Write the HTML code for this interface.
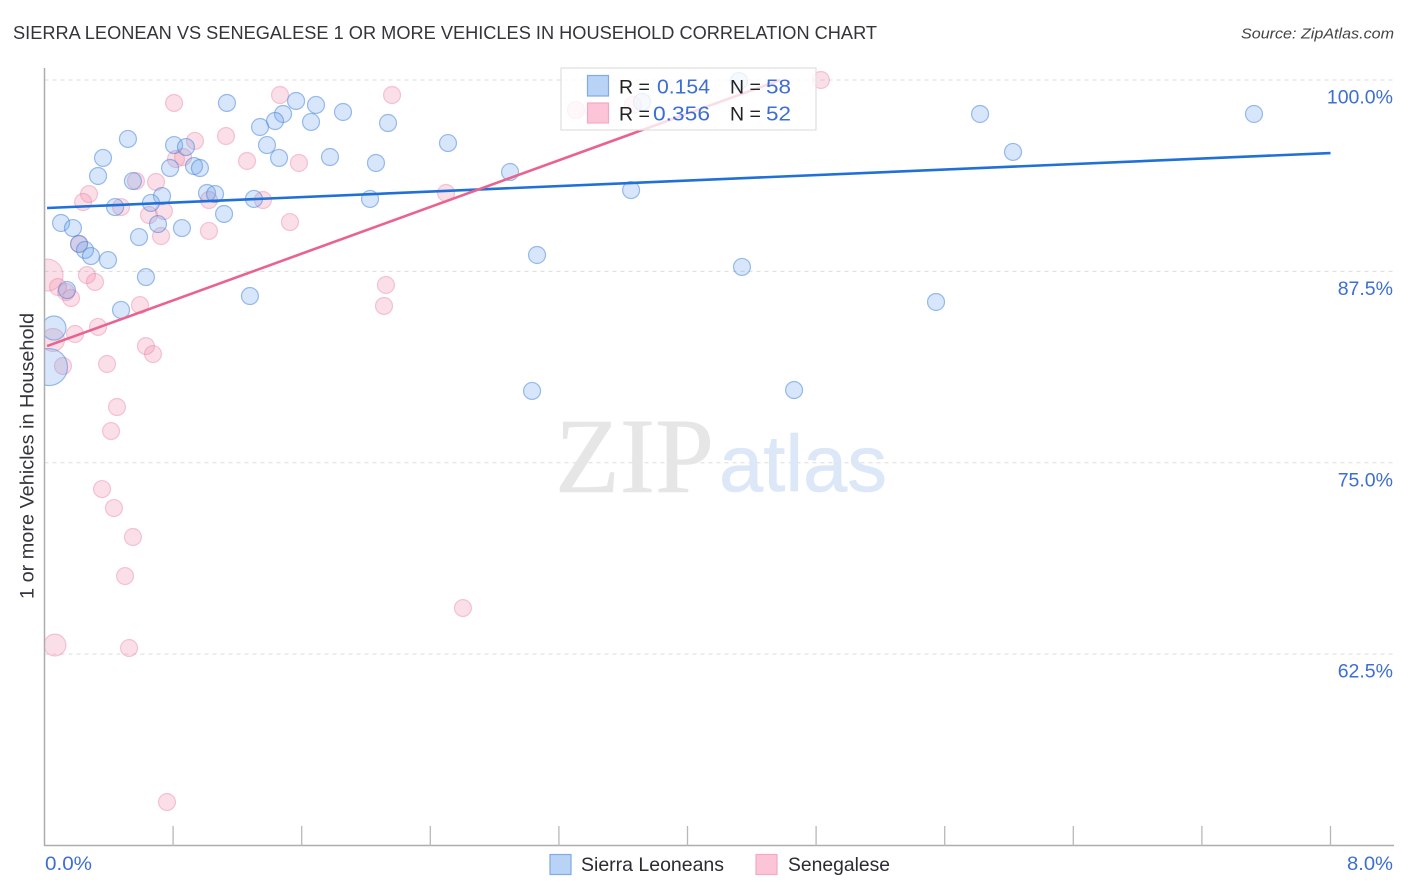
<!DOCTYPE html>
<html lang="en">
<head>
<meta charset="utf-8">
<title>Sierra Leonean vs Senegalese 1 or More Vehicles in Household Correlation Chart</title>
<style>
html,body{margin:0;padding:0;background:#fff;}
svg{display:block;font-family:"Liberation Sans",sans-serif;}
</style>
</head>
<body>
<svg id="chart" xmlns="http://www.w3.org/2000/svg" width="1406" height="892" viewBox="0 0 1406 892">
  <defs><clipPath id="plot-clip"><rect x="44.5" y="60" width="1350" height="786"/></clipPath></defs>
  <text x="13" y="39" font-size="18.5" fill="#34343c" textLength="864" lengthAdjust="spacingAndGlyphs">SIERRA LEONEAN VS SENEGALESE 1 OR MORE VEHICLES IN HOUSEHOLD CORRELATION CHART</text>
  <text x="1394" y="38.500" font-size="15" font-style="italic" fill="#444" text-anchor="end" textLength="153" lengthAdjust="spacingAndGlyphs">Source: ZipAtlas.com</text>
  <g id="grid"></g>
  <g>
    <text x="555" y="492" font-family="'Liberation Serif',serif" font-size="107" fill="#e6e6e6" stroke="#e6e6e6" stroke-width="0.6" textLength="159" lengthAdjust="spacingAndGlyphs">ZIP</text>
    <text x="719" y="491" font-size="80" fill="#dce7f7" stroke="#dce7f7" stroke-width="0.6" textLength="168" lengthAdjust="spacingAndGlyphs">atlas</text>
  </g>
  <g id="points" clip-path="url(#plot-clip)"></g>
  <g id="trends"></g>
  <line x1="44.500" y1="68" x2="44.500" y2="846" stroke="#adadad" stroke-width="1.500"/>
  <line x1="44" y1="845.500" x2="1394" y2="845.500" stroke="#adadad" stroke-width="1.500"/>
  <g id="xticks"></g>
  <g id="ylabels"></g>
  <text x="45" y="870" font-size="19.500" fill="#3d6fd1" textLength="47" lengthAdjust="spacingAndGlyphs">0.0%</text>
  <text x="1393" y="870" font-size="19.500" fill="#3d6fd1" text-anchor="end" textLength="46" lengthAdjust="spacingAndGlyphs">8.0%</text>
  <text transform="translate(33.500,456) rotate(-90)" font-size="19.500" fill="#34343c" text-anchor="middle" textLength="286" lengthAdjust="spacingAndGlyphs">1 or more Vehicles in Household</text>

  <g>
    <rect x="561" y="68" width="255" height="62" fill="#fff" fill-opacity="0.78" stroke="#dedede" stroke-width="1.200"/>
    <rect x="587.500" y="75.500" width="21" height="20.500" fill="#b9d3f7" stroke="#7fabe6" stroke-width="1.200"/>
    <rect x="587.500" y="103" width="21" height="20" fill="#fcc5d7" stroke="#f3a9c1" stroke-width="1.200"/>
    <text x="619" y="93.500" font-size="19.500" fill="#222">R =</text>
    <text x="657" y="93.500" font-size="20.500" fill="#3d6fd1" textLength="53" lengthAdjust="spacingAndGlyphs">0.154</text>
    <text x="730" y="93.500" font-size="19.500" fill="#222">N =</text>
    <text x="766" y="93.500" font-size="20.500" fill="#3d6fd1" textLength="25" lengthAdjust="spacingAndGlyphs">58</text>
    <text x="619" y="120.500" font-size="19.500" fill="#222">R =</text>
    <text x="653" y="120.500" font-size="20.500" fill="#3d6fd1" textLength="57" lengthAdjust="spacingAndGlyphs">0.356</text>
    <text x="730" y="120.500" font-size="19.500" fill="#222">N =</text>
    <text x="766" y="120.500" font-size="20.500" fill="#3d6fd1" textLength="25" lengthAdjust="spacingAndGlyphs">52</text>
  </g>

  <g>
    <rect x="550" y="854.500" width="21" height="20" fill="#b9d3f7" stroke="#7fabe6" stroke-width="1.200"/>
    <text x="581" y="871" font-size="19.500" fill="#2b2b33" textLength="143" lengthAdjust="spacingAndGlyphs">Sierra Leoneans</text>
    <rect x="756" y="854.500" width="21" height="20" fill="#fcc5d7" stroke="#f3a9c1" stroke-width="1.200"/>
    <text x="788" y="871" font-size="19.500" fill="#2b2b33" textLength="102" lengthAdjust="spacingAndGlyphs">Senegalese</text>
  </g>
</svg>
<script>
const yTickValues = [100, 87.5, 75, 62.5];
const yTickLabels = ['100.0%', '87.5%', '75.0%', '62.5%'];
const xTickValues = [0.8, 1.6, 2.4, 3.2, 4.0, 4.8, 5.6, 6.4, 7.2, 8.0];

const blueX = [1.135,0.519,0.364,0.333,0.806,0.880,0.550,0.781,0.930,0.967,0.731,0.662,0.439,1.011,1.061,1.303,1.117,0.855,0.706,0.588,0.103,0.177,0.215,0.252,0.289,0.395,0.631,0.140,1.278,0.476,0.059,0.028,1.565,1.689,1.484,1.434,1.341,1.658,1.857,2.137,1.384,1.459,1.776,2.062,2.025,2.510,2.896,3.649,3.064,4.339,5.546,3.033,4.663,5.820,6.025,7.524,4.320,3.717];
const blueY = [98.50,96.15,94.91,93.73,95.75,95.62,93.40,94.25,94.38,94.25,92.42,91.97,91.70,92.62,92.55,92.23,91.25,90.33,90.59,89.74,90.66,90.33,89.29,88.90,88.50,88.24,87.13,86.28,85.89,84.98,83.80,81.25,98.63,98.37,97.78,97.32,96.93,97.26,97.91,97.19,95.75,94.91,94.97,94.58,92.23,95.88,93.99,92.81,88.57,87.79,85.50,79.69,79.75,97.78,95.30,97.78,99.93,98.56];
const blueWeight = [1,1,1,1,1,1,1,1,1,1,1,1,1,1,1,1,1,1,1,1,1,1,1,1,1,1,1,1,1,1,2,4.74,1,1,1,1,1,1,1,1,1,1,1,1,1,1,1,1,1,1,1,1,1,1,1,1,1,1];

const pinkX = [0.806,1.465,2.162,1.129,0.936,1.260,1.583,0.818,0.862,0.569,0.694,0.277,0.240,0.476,0.743,0.650,1.023,1.359,1.527,1.023,0.725,0.215,0.264,0.314,2.124,2.112,0.084,0.134,0.165,0.016,0.594,0.333,0.190,0.053,0.115,0.631,0.675,0.389,0.451,0.414,0.358,0.432,0.550,0.501,0.065,0.526,0.762,2.603,2.498,3.306,4.830,3.661];
const pinkY = [98.50,99.02,99.02,96.34,96.02,94.71,94.58,94.84,94.97,93.40,93.34,92.55,92.03,91.70,91.44,91.18,92.16,92.16,90.72,90.14,89.81,89.29,87.26,86.81,86.61,85.24,86.48,86.15,85.76,87.26,85.30,83.87,83.41,83.02,81.32,82.62,82.10,81.45,78.64,77.07,73.28,72.04,70.15,67.60,63.09,62.90,52.84,65.51,92.62,98.04,100.00,98.37];
const pinkWeight = [1,1,1,1,1,1,1,1,1,1,1,1,1,1,1,1,1,1,1,1,1,1,1,1,1,1,1,1,1,3.54,1,1,1,1.83,1,1,1,1,1,1,1,1,1,1,1.67,1,1,1,1,1,1,1];

const blueTrendX = [0.016, 8.0];
const blueTrendY = [91.64, 95.23];
const pinkTrendX = [0.016, 4.576];
const pinkTrendY = [82.62, 100.0];

const NS = 'http://www.w3.org/2000/svg';
function xScale(v) { return 44.5 + v * 160.75; }
function yScale(v) { return 80 + (100 - v) * 15.31; }
function make(tag, attrs, parent) {
  const el = document.createElementNS(NS, tag);
  for (const k in attrs) el.setAttribute(k, attrs[k]);
  parent.appendChild(el);
  return el;
}

const grid = document.getElementById('grid');
const ylabels = document.getElementById('ylabels');
yTickValues.forEach(function (v, i) {
  const g = make('line', {x1: 44.5, x2: 1394, y1: yScale(v), y2: yScale(v), stroke: '#dcdcdc', 'stroke-width': 1, 'stroke-dasharray': '4 4'}, grid);
  
  
  const t = make('text', {x: 1393, y: yScale(v) + 23.5, 'text-anchor': 'end', 'font-size': 19.5, fill: '#3d6fd1'}, ylabels);
  
  
  t.textContent = yTickLabels[i];
});

const xticks = document.getElementById('xticks');
xTickValues.forEach(function (v) {
  const t = make('line', {x1: xScale(v), x2: xScale(v), y1: 826, y2: 846, stroke: '#b8b8b8', 'stroke-width': 1.3}, xticks);
  
  
});

const points = document.getElementById('points');
function radius(w) { return 8.5 * Math.sqrt(w); }
pinkX.forEach(function (x, i) {
  const c = make('circle', {cx: xScale(x), cy: yScale(pinkY[i]), r: radius(pinkWeight[i]), fill: '#f08cab', 'fill-opacity': 0.28, stroke: '#e8769b', 'stroke-opacity': 0.38, 'stroke-width': 1.2}, points);
  
  
});
blueX.forEach(function (x, i) {
  const c = make('circle', {cx: xScale(x), cy: yScale(blueY[i]), r: radius(blueWeight[i]), fill: '#6ea5ec', 'fill-opacity': 0.28, stroke: '#3f7fd8', 'stroke-opacity': 0.5, 'stroke-width': 1.2}, points);
  
  
});

const trends = document.getElementById('trends');
const blueTrend = make('line', {x1: xScale(blueTrendX[0]), y1: yScale(blueTrendY[0]), x2: xScale(blueTrendX[1]), y2: yScale(blueTrendY[1]), stroke: '#2070d8', 'stroke-width': 2.6}, trends);


const pinkTrend = make('line', {x1: xScale(pinkTrendX[0]), y1: yScale(pinkTrendY[0]), x2: xScale(pinkTrendX[1]), y2: yScale(pinkTrendY[1]), stroke: '#e9638f', 'stroke-width': 2.6}, trends);


</script>
</body>
</html>
